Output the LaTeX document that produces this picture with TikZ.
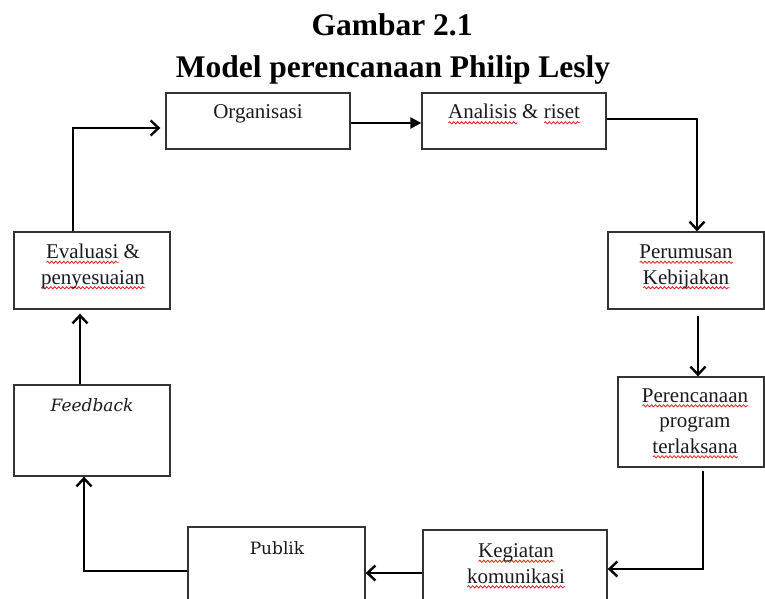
\documentclass[tikz,border=0pt]{standalone}
\usepackage{fontspec}
\setmainfont{Liberation Serif}
\newfontfamily\slabfont{DejaVu Serif}
\usetikzlibrary{arrows.meta,decorations.pathmorphing}
\definecolor{boxc}{HTML}{333333}
\definecolor{txtc}{HTML}{1A1A1A}
\definecolor{wavec}{HTML}{E0201E}
\newlength\sqw
\newcommand\sq[1]{\settowidth{\sqw}{#1}\leavevmode\rlap{\tikz[baseline=0pt]\draw[wavec, line width=0.8pt, decorate, decoration={snake, amplitude=1.1pt, segment length=4pt}] (0pt,-3.8pt) -- (\sqw,-3.8pt);}#1}
\begin{document}
\begin{tikzpicture}[x=1pt,y=-1pt,
  box/.style={draw=boxc, line width=1.3pt, rectangle, inner sep=0pt},
  lbl/.style={inner sep=0pt, text=txtc, align=center, anchor=base,
    font=\fontsize{21}{25.5}\selectfont},
  slbl/.style={inner sep=0pt, text=txtc, align=center, anchor=base,
    font=\slabfont\fontsize{17}{21}\selectfont},
  ttl/.style={inner sep=0pt, text=black, anchor=base,
    font=\bfseries\fontsize{31.5}{42}\selectfont},
  conn/.style={draw=black, line width=2.4pt, line join=miter,
    -{Straight Barb[length=8pt,width=15pt]}},
  connf/.style={draw=black, line width=2.4pt,
    -{Triangle[length=11pt,width=11pt]}}]
\clip (0,0) rectangle (765,599);
% title
\node[ttl] (t1) at (392,36) {Gambar 2.1};
\node[ttl] (t2) at (393,78) {Model perencanaan Philip Lesly};
% boxes
\node[box, minimum width=184pt, minimum height=56pt] (org) at (258,121) {};
\node[box, minimum width=184pt, minimum height=56pt] (ana) at (514,121) {};
\node[box, minimum width=156pt, minimum height=77pt] (per) at (686,270.5) {};
\node[box, minimum width=146pt, minimum height=90pt] (ren) at (691,422) {};
\node[box, minimum width=184pt, minimum height=70pt] (keg) at (515,565) {};
\node[box, minimum width=177pt, minimum height=73pt] (pub) at (276.5,563.5) {};
\node[box, minimum width=156pt, minimum height=91pt] (fb) at (92,430.5) {};
\node[box, minimum width=156pt, minimum height=77pt] (eva) at (92,270.5) {};
% labels (anchor = baseline of the last line)
\node[lbl] (torg) at (258,119) {Organisasi};
\node[lbl] (tana) at (514,119) {\sq{Analisis} \& \sq{riset}};
\node[lbl] (tper) at (686,284) {\sq{Perumusan}\\\sq{Kebijakan}};
\node[lbl] (tren) at (695,453) {\sq{Perencanaan}\\program\\\sq{terlaksana}};
\node[lbl] (tkeg) at (516,583) {\sq{Kegiatan}\\\sq{komunikasi}};
\node[slbl] (tpub) at (277,554) {Publik};
\node[slbl] (tfb) at (92,411) {\itshape Feedback};
\node[lbl] (teva) at (93,284) {\sq{Evaluasi} \&\\\sq{penyesuaian}};
% connectors
\draw[conn, shorten >=5pt] ([xshift=-19pt]eva.north) |- ([yshift=-7pt]org.west);
\draw[connf] ([yshift=-2pt]org.east) -- ([yshift=-2pt]ana.west);
\draw[conn] ([yshift=2pt]ana.east) -| ([xshift=11pt]per.north);
\draw[conn, shorten <=6pt] ([xshift=12pt]per.south) -- ([xshift=7pt]ren.north);
\draw[conn, shorten <=3pt] ([xshift=12pt]ren.south) |- ([yshift=-4pt]keg.east);
\draw[conn] ([yshift=-8pt]keg.west) -- ([yshift=-9.5pt]pub.east);
\draw[conn] ([yshift=-7.5pt]pub.west) -| ([xshift=-8pt]fb.south);
\draw[conn, shorten >=4pt] ([xshift=-12pt]fb.north) -- ([xshift=-12pt]eva.south);
\end{tikzpicture}
\end{document}
